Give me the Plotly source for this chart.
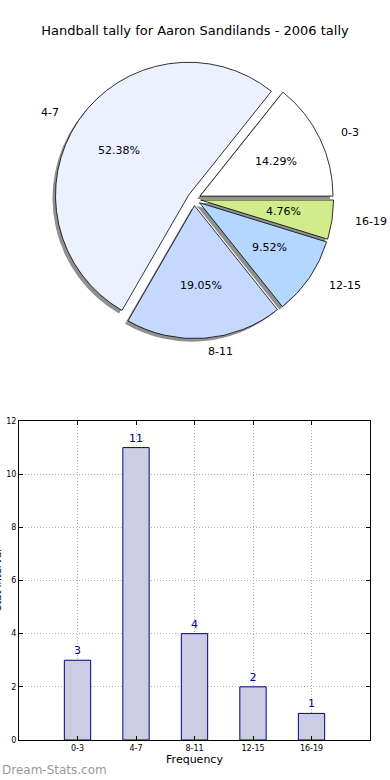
import math
import plotly.graph_objects as go

# ---- data ----
categories = ["0-3", "4-7", "8-11", "12-15", "16-19"]
counts = [3, 11, 4, 2, 1]
pie_colors = ["#FFFFFF", "#EBF1FF", "#C5D9FF", "#B3D7FF", "#D0EC8B"]
chart_title = "Handball tally for Aaron Sandilands - 2006 tally"
y_ticks = [0, 2, 4, 6, 8, 10, 12]
x_title = "Frequency"
y_title = "Stat Interval"
watermark = "Dream-Stats.com"

# ---- layout geometry (pixels) ----
W, H = 390, 780
cx, cy, r = 194, 199, 133
rx_text = 140  # horizontal reach used for text placement
pull = 0.05
half = r * (1 + pull)
shadow = 3
FONT = "DejaVu Sans"


def fx(x):
    return x / W


def fy(y):
    return 1 - y / H


total = sum(counts)
# plotly counterclockwise: first slice lies clockwise of `rotation`
rot = 90 - 360 * counts[0] / total

fig = go.Figure()

# shadow pie
fig.add_trace(go.Pie(
    values=counts, labels=categories, sort=False, direction="counterclockwise",
    rotation=rot, pull=[pull] * len(counts),
    marker=dict(colors=["rgba(70,70,70,0.6)"] * len(counts), line=dict(width=0)),
    textinfo="none", hoverinfo="skip", showlegend=False,
    domain=dict(x=[fx(cx - shadow - half), fx(cx - shadow + half)],
                y=[fy(cy + shadow + half), fy(cy + shadow - half)]),
))

# main pie
fig.add_trace(go.Pie(
    values=counts, labels=categories, sort=False, direction="counterclockwise",
    rotation=rot, pull=[pull] * len(counts),
    marker=dict(colors=pie_colors, line=dict(color="black", width=0.8)),
    textinfo="none", showlegend=False,
    domain=dict(x=[fx(cx - half), fx(cx + half)],
                y=[fy(cy + half), fy(cy - half)]),
))

# labels / percentages like matplotlib
start = 0
annotations = []
for lab, v in zip(categories, counts):
    th = 2 * math.pi * (start + v / 2) / total
    start += v
    c, s = math.cos(th), math.sin(th)
    px_ = cx + (pull + 0.6) * rx_text * c
    py_ = cy - (pull + 0.6) * r * s
    lx = cx + (pull + 1.1) * rx_text * c
    ly = cy - (pull + 1.1) * r * s
    annotations.append(dict(x=fx(px_), y=fy(py_), xref="paper", yref="paper",
                            text=f"{100 * v / total:.2f}%", showarrow=False,
                            xanchor="center", yanchor="middle",
                            font=dict(family=FONT, size=11, color="black")))
    annotations.append(dict(x=fx(lx), y=fy(ly), xref="paper", yref="paper",
                            text=lab, showarrow=False,
                            xanchor="left" if c > 0 else "right", yanchor="middle",
                            font=dict(family=FONT, size=11, color="black")))

# bar chart
fig.add_trace(go.Bar(
    x=categories, y=counts, width=0.45,
    marker=dict(color="#CCCCE5", line=dict(color="#000080", width=1)),
    text=[str(v) for v in counts], textposition="outside",
    textfont=dict(family=FONT, size=11, color="#00008B"),
    cliponaxis=False, showlegend=False, xaxis="x", yaxis="y",
))

annotations.append(dict(x=fx(-3), y=fy(580), xref="paper", yref="paper",
                        text=y_title, textangle=-90, showarrow=False,
                        xanchor="center", yanchor="middle",
                        font=dict(family=FONT, size=10, color="black")))
annotations.append(dict(x=0, y=fy(770), xref="paper", yref="paper",
                        text=watermark, showarrow=False,
                        xanchor="left", yanchor="middle",
                        font=dict(family=FONT, size=12, color="#999999")))

axis_common = dict(showline=True, linecolor="black", linewidth=1, mirror="ticks",
                   ticks="inside", ticklen=4, tickcolor="black", automargin=False,
                   showgrid=True, gridcolor="#b0b0b0", griddash="1px,2px", gridwidth=1,
                   zeroline=False, tickfont=dict(family=FONT, size=8, color="black"))

fig.update_layout(
    width=W, height=H, margin=dict(l=0, r=0, t=0, b=0, autoexpand=False),
    paper_bgcolor="white", plot_bgcolor="white",
    title=dict(text=chart_title, x=0.5, xanchor="center", y=fy(30), yanchor="middle",
               font=dict(family=FONT, size=13, color="black")),
    xaxis=dict(domain=[fx(19), fx(370)], anchor="y", range=[-1, 5],
               title=dict(text=x_title, standoff=3, font=dict(family=FONT, size=11, color="black")),
               **axis_common),
    yaxis=dict(domain=[fy(740), fy(421)], anchor="x", range=[0, 12], tickvals=y_ticks,
               **axis_common),
    annotations=annotations,
)

fig.write_html("out.html", config={"displayModeBar": False},
               post_script="document.body.style.margin='0px';")
